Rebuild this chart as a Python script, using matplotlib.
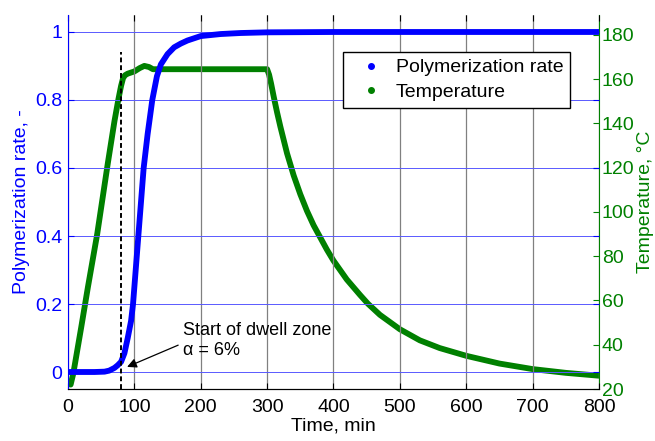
import matplotlib
matplotlib.use("Agg")
import matplotlib.pyplot as plt
from matplotlib.lines import Line2D

plt.rcParams["font.family"] = ["Liberation Sans", "DejaVu Sans"]

# polymerization rate (degree of cure)
t_alpha = [0, 40, 55, 62, 70, 75, 80, 85, 90, 95, 98, 102, 106, 110, 114,
           120, 127, 134, 140, 150, 160, 170, 180, 200, 230, 260, 300, 400,
           600, 800]
alpha = [0, 0, 0.001, 0.004, 0.012, 0.02, 0.03, 0.055, 0.1, 0.15, 0.2, 0.3,
         0.4, 0.5, 0.6, 0.7, 0.8, 0.87, 0.905, 0.935, 0.955, 0.966, 0.975,
         0.988, 0.994, 0.997, 0.999, 1.0, 1.0, 1.0]

# temperature, deg C
t_temp = [0, 4, 8, 20, 30, 44, 60, 70, 76, 80, 83, 86, 90, 100, 108, 115,
          122, 128, 150, 300, 303, 306, 310, 315, 320, 330, 340, 350, 360,
          370, 380, 390, 400, 420, 440, 452, 470, 500, 530, 560, 600, 650,
          700, 750, 800]
temp = [23, 22, 27, 48, 66, 90, 122, 141, 151, 157, 160.5, 161.8, 162.5,
        163.5, 165, 166, 165.5, 164.5, 164.5, 164.5, 162, 158, 152, 145,
        138.5, 126.5, 116.5, 108, 100.5, 94, 88.5, 83, 78, 69.5, 62.5, 58.5,
        53.5, 47, 42, 38.5, 35, 31.5, 29, 27.3, 26]

t_dwell = 80

blue = (0, 0, 1)
green = (0, 0.5, 0)
fs = 14

fig = plt.figure(figsize=(6.55, 4.41), dpi=100)
ax = fig.add_axes([0.1038, 0.1179, 0.8107, 0.8481])
ax2 = ax.twinx()

ax2.plot(t_temp, temp, color=green, lw=4.2, solid_capstyle="round",
         solid_joinstyle="round")
ax.plot(t_alpha, alpha, color=blue, lw=4.2, solid_capstyle="round",
        solid_joinstyle="round")
ax.plot([t_dwell, t_dwell], [-0.05, 0.94], color="black", lw=1.4,
        dashes=(2.5, 1.5))

ax.set_zorder(ax2.get_zorder() + 1)
ax.patch.set_visible(False)

ax.set_xlim(0, 800)
ax.set_ylim(-0.05, 1.05)
ax2.set_ylim(20, 189)
ax.set_xticks(range(0, 801, 100))
ax.set_yticks([0, 0.2, 0.4, 0.6, 0.8, 1])
ax.set_yticklabels(["0", "0.2", "0.4", "0.6", "0.8", "1"])
ax2.set_yticks(range(20, 181, 20))

ax.grid(axis="y", color=(0.35, 0.35, 1), lw=0.7)
ax.grid(axis="x", color="0.5", lw=0.9)

ax.tick_params(axis="x", direction="in", length=4, top=True, colors="black",
               labelsize=fs, pad=7)
ax.tick_params(axis="y", direction="in", length=4, right=True, colors=blue,
               labelsize=fs, pad=4)
ax2.tick_params(axis="y", direction="in", length=4, colors=green,
                labelsize=fs, pad=2)

ax.spines["top"].set_visible(False)
ax.spines["right"].set_visible(False)
ax.spines["left"].set_color(blue)
ax2.spines["top"].set_visible(False)
ax2.spines["left"].set_visible(False)
ax2.spines["right"].set_color(green)

ax.set_xlabel("Time, min", fontsize=fs, labelpad=1)
ax.set_ylabel("Polymerization rate, -", fontsize=fs, color=blue, labelpad=4)
ax2.set_ylabel("Temperature, \u00b0C", fontsize=fs, color=green, labelpad=2)

ax.annotate("", xy=(89, 0.015), xytext=(166, 0.079),
            arrowprops=dict(arrowstyle="-|>", color="black", lw=0.9,
                            mutation_scale=14, shrinkA=0, shrinkB=0))
ax.text(174, 0.092, "Start of dwell zone\n\u03b1 = 6%", fontsize=13,
        ha="left", va="center", linespacing=1.25)

handles = [Line2D([], [], ls="none", marker=".", color=blue, markersize=8),
           Line2D([], [], ls="none", marker=".", color=green, markersize=8)]
leg = ax.legend(handles, ["Polymerization rate", "Temperature"],
                loc="upper left", bbox_to_anchor=(0.518, 0.901),
                borderaxespad=0, fontsize=fs, handlelength=2.2,
                handletextpad=0.15, borderpad=0.35, labelspacing=0.35,
                fancybox=False, framealpha=1, edgecolor="black")
leg.get_frame().set_linewidth(1.0)

fig.savefig("out.png", dpi=100)
